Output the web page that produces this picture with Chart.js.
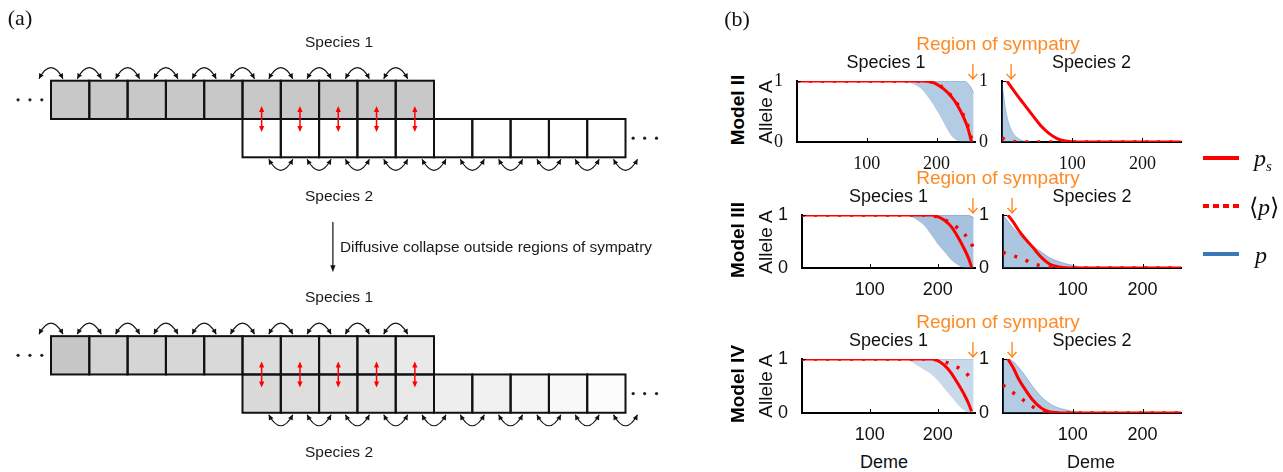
<!DOCTYPE html>
<html>
<head>
<meta charset="utf-8">
<script src="https://cdn.jsdelivr.net/npm/chart.js@4.4.1/dist/chart.umd.min.js"></script>
<style>
  html, body { margin: 0; padding: 0; background: #fff; }
  #fig { position: relative; width: 1283px; height: 472px; overflow: hidden;
         font-family: 'Liberation Sans', Arial, sans-serif; color: #1a1a1a; }
  #fig canvas { position: absolute; }
  .lbl { position: absolute; white-space: nowrap; line-height: 1; transform: translate(-50%, -50%); }
  .key { position: absolute; height: 4px; }
</style>
</head>
<body>
<div id="fig"></div>
<script>
// ---- panel (a): schematic of demes ----
const cellsTop = [0, 1, 2, 3, 4, 5, 6, 7, 8, 9];
const cellsBottom = [5, 6, 7, 8, 9, 10, 11, 12, 13, 14];
const arcsTop = [0, 1, 2, 3, 4, 5, 6, 7, 8, 9];
const arcsBottom = [6, 7, 8, 9, 10, 11, 12, 13, 14, 15];
const sympatryCells = [5, 6, 7, 8, 9];
const shadeTopBefore = ['#c8c8c8', '#c8c8c8', '#c8c8c8', '#c8c8c8', '#c8c8c8', '#c8c8c8', '#c8c8c8', '#c8c8c8', '#c8c8c8', '#c8c8c8'];
const shadeBottomBefore = ['#ffffff', '#ffffff', '#ffffff', '#ffffff', '#ffffff', '#ffffff', '#ffffff', '#ffffff', '#ffffff', '#ffffff'];
const shadeTopAfter = ['#c6c6c6', '#d3d3d3', '#d5d5d5', '#d7d7d7', '#d9d9d9', '#dcdcdc', '#dfdfdf', '#e2e2e2', '#e5e5e5', '#e9e9e9'];
const shadeBottomAfter = ['#dadada', '#dddddd', '#e1e1e1', '#e4e4e4', '#e8e8e8', '#eeeeee', '#f1f1f1', '#f4f4f4', '#f8f8f8', '#fcfcfc'];

// ---- panel (b): allele frequency profiles ----
const xTicks = [100, 200];
const yTicks = [0, 1];
const demes1 = [0, 150, 160, 170, 180, 190, 200, 210, 220, 230, 240, 245, 250, 253];
const demes2 = [0, 3, 7, 15, 22, 30, 42, 55, 66, 78, 90, 100, 110, 120, 255];

// Model II
const m2Ps1   = [1, 1, 1, 1, 1, 0.99, 0.95, 0.87, 0.76, 0.6, 0.37, 0.22, 0, null];
const m2Mean1 = [1, 1, 1, 1, 1, 0.99, 0.96, 0.88, 0.77, 0.62, 0.4, 0.26, 0.06, null];
const m2Hi1   = [null, 1, 1, 1, 1, 1, 1, 1, 1, 1, 1, 0.96, 0.88, 0.8];
const m2Lo1   = [null, 1, 0.98, 0.93, 0.85, 0.7, 0.52, 0.32, 0.12, 0.02, 0, 0, 0, 0];
const m2Ps2   = [null, null, 1, 0.87, 0.76, 0.64, 0.46, 0.27, 0.15, 0.06, 0.015, 0.003, 0, 0, 0];
const m2Mean2 = [0.07, 0.05, 0.03, 0.01, 0, 0, 0, 0, 0, 0, 0, 0, 0, 0, 0];
const m2Hi2   = [1, 0.7, 0.42, 0.16, 0.07, 0.02, 0, null, null, null, null, null, null, null, null];
const m2Lo2   = [0, 0, 0, 0, 0, 0, 0, null, null, null, null, null, null, null, null];

// Model III
const m3Ps1   = [1, 1, 1, 1, 1, 1, 0.97, 0.9, 0.78, 0.58, 0.34, 0.2, 0.02, null];
const m3Mean1 = [1, 1, 1, 1, 1, 0.99, 0.96, 0.91, 0.84, 0.75, 0.63, 0.55, 0.45, 0.37];
const m3Hi1   = [null, 1, 1, 1, 1, 1, 1, 1, 1, 1, 1, 1, 0.97, 0.95];
const m3Lo1   = [null, 1, 0.97, 0.9, 0.8, 0.63, 0.45, 0.3, 0.15, 0.05, 0, 0, 0, 0];
const m3Ps2   = [null, null, 1, 0.86, 0.72, 0.58, 0.4, 0.2, 0.08, 0.025, 0.005, 0, 0, 0, 0];
const m3Mean2 = [0.3, 0.28, 0.26, 0.23, 0.2, 0.16, 0.09, 0.04, 0.015, 0.005, 0, 0, 0, 0, 0];
const m3Hi2   = [1, 0.95, 0.88, 0.75, 0.65, 0.55, 0.42, 0.3, 0.2, 0.13, 0.08, 0.05, 0.02, 0, null];
const m3Lo2   = [0, 0, 0, 0, 0, 0, 0, 0, 0, 0, 0, 0, 0, 0, null];

// Model IV
const m4Ps1   = [1, 1, 1, 1, 1, 1, 0.97, 0.88, 0.74, 0.54, 0.32, 0.19, 0.03, null];
const m4Mean1 = [1, 1, 1, 1, 1, 1, 0.98, 0.95, 0.9, 0.84, 0.76, 0.7, 0.63, 0.58];
const m4Hi1   = [null, 1, 1, 1, 1, 1, 1, 1, 1, 1, 1, 1, 1, 1];
const m4Lo1   = [null, 1, 0.96, 0.88, 0.8, 0.72, 0.6, 0.45, 0.3, 0.15, 0.04, 0, 0, 0];
const m4Ps2   = [null, null, 1, 0.83, 0.64, 0.47, 0.25, 0.09, 0.025, 0.005, 0, 0, 0, 0, 0];
const m4Mean2 = [0.52, 0.48, 0.44, 0.37, 0.31, 0.23, 0.12, 0.04, 0.01, 0, 0, 0, 0, 0, 0];
const m4Hi2   = [1, 1, 1, 0.95, 0.85, 0.72, 0.5, 0.3, 0.18, 0.1, 0.06, 0.03, 0.01, 0, null];
const m4Lo2   = [0, 0, 0, 0, 0, 0, 0, 0, 0, 0, 0, 0, 0, 0, null];

const sympatryArrow = [252, 13];

const RED = '#ff0000';
const ORANGE = '#ff8a24';
const BLUE = '59,120,181';
const fig = document.getElementById('fig');

function label(html, x, y, css, rotate) {
  const el = document.createElement('div');
  el.className = 'lbl';
  el.innerHTML = html;
  el.style.left = x + 'px';
  el.style.top = y + 'px';
  Object.assign(el.style, css || {});
  if (rotate) el.style.transform = 'translate(-50%, -50%) rotate(-90deg)';
  fig.appendChild(el);
}

function addCanvas(l, t, w, h) {
  const cv = document.createElement('canvas');
  cv.width = w; cv.height = h;
  cv.style.left = l + 'px'; cv.style.top = t + 'px';
  cv.style.width = w + 'px'; cv.style.height = h + 'px';
  fig.appendChild(cv);
  return cv;
}

// ---------- panel (a) ----------
const cellPx = 38.3;
const diagrams = [
  { offset: 0, top: shadeTopBefore, bottom: shadeBottomBefore },
  { offset: 6.67, top: shadeTopAfter, bottom: shadeBottomAfter }
];

function head(ctx, x, y, dx, dy, len, half) {
  const n = Math.hypot(dx, dy); dx /= n; dy /= n;
  ctx.beginPath();
  ctx.moveTo(x, y);
  ctx.lineTo(x - dx * len - dy * half, y - dy * len + dx * half);
  ctx.lineTo(x - dx * len + dy * half, y - dy * len - dx * half);
  ctx.closePath();
  ctx.fill();
}

const schematic = {
  id: 'schematic',
  afterDraw(chart) {
    const { ctx, scales: { x, y } } = chart;
    const px = v => x.getPixelForValue(v);
    const py = v => y.getPixelForValue(v);
    ctx.save();
    diagrams.forEach(d => {
      // cells
      ctx.lineWidth = 2; ctx.strokeStyle = '#111';
      cellsTop.forEach((c, i) => {
        ctx.fillStyle = d.top[i];
        ctx.fillRect(px(c), py(d.offset), px(c + 1) - px(c), py(d.offset + 1) - py(d.offset));
      });
      cellsBottom.forEach((c, i) => {
        ctx.fillStyle = d.bottom[i];
        ctx.fillRect(px(c), py(d.offset + 1), px(c + 1) - px(c), py(d.offset + 2) - py(d.offset + 1));
      });
      cellsTop.forEach(c => ctx.strokeRect(px(c), py(d.offset), px(c + 1) - px(c), py(d.offset + 1) - py(d.offset)));
      cellsBottom.forEach(c => ctx.strokeRect(px(c), py(d.offset + 1), px(c + 1) - px(c), py(d.offset + 2) - py(d.offset + 1)));

      // migration arcs
      ctx.lineWidth = 1.2; ctx.strokeStyle = '#111'; ctx.fillStyle = '#111';
      const arc = (bx, by, dir) => {
        const x0 = bx - 12, x1 = bx + 12, ye = by + dir * 2, cy = by + dir * 24;
        ctx.beginPath(); ctx.moveTo(x0, ye); ctx.quadraticCurveTo(bx, cy, x1, ye); ctx.stroke();
        head(ctx, x0, ye, x0 - bx, ye - cy, 5, 2.6);
        head(ctx, x1, ye, x1 - bx, ye - cy, 5, 2.6);
      };
      arcsTop.forEach(b => arc(px(b), py(d.offset), -1));
      arcsBottom.forEach(b => arc(px(b), py(d.offset + 2), 1));

      // hybridisation arrows in the region of sympatry
      ctx.strokeStyle = RED; ctx.fillStyle = RED; ctx.lineWidth = 1.5;
      sympatryCells.forEach(c => {
        const cx = px(c + 0.5), cy = py(d.offset + 1);
        ctx.beginPath(); ctx.moveTo(cx, cy - 10); ctx.lineTo(cx, cy + 10); ctx.stroke();
        head(ctx, cx, cy - 13, 0, -1, 6, 2.6);
        head(ctx, cx, cy + 13, 0, 1, 6, 2.6);
      });

      // continuation dots
      ctx.fillStyle = '#222';
      [-0.86, -0.55, -0.24].forEach(v => { ctx.beginPath(); ctx.arc(px(v), py(d.offset + 0.5), 1.6, 0, Math.PI * 2); ctx.fill(); });
      [15.2, 15.5, 15.81].forEach(v => { ctx.beginPath(); ctx.arc(px(v), py(d.offset + 1.5), 1.6, 0, Math.PI * 2); ctx.fill(); });
    });

    // diffusive collapse arrow
    ctx.strokeStyle = '#111'; ctx.fillStyle = '#111'; ctx.lineWidth = 1.2;
    const ax = px(7.36);
    ctx.beginPath(); ctx.moveTo(ax, py(3.69)); ctx.lineTo(ax, py(4.9)); ctx.stroke();
    head(ctx, ax, py(5.0), 0, 1, 7, 2.6);
    ctx.restore();
  }
};

const cvA = addCanvas(0, 0, 680, 472);
new Chart(cvA, {
  type: 'scatter',
  data: { datasets: [] },
  options: {
    responsive: false, animation: false, events: [],
    layout: { padding: 0 },
    plugins: { legend: { display: false }, tooltip: { enabled: false } },
    scales: {
      x: { type: 'linear', display: false, min: -51 / cellPx, max: -51 / cellPx + 680 / cellPx },
      y: { type: 'linear', display: false, reverse: true, min: -80.7 / cellPx, max: -80.7 / cellPx + 472 / cellPx }
    }
  },
  plugins: [schematic]
});

// ---------- panel (b) ----------
const axisExtras = {
  id: 'axisExtras',
  afterDraw(chart, args, opts) {
    const { ctx, chartArea: a, scales: { x, y } } = chart;
    ctx.save();
    ctx.strokeStyle = '#000'; ctx.lineWidth = 1;
    xTicks.forEach(v => {
      const p = Math.round(x.getPixelForValue(v)) + 0.5;
      ctx.beginPath(); ctx.moveTo(p, a.bottom); ctx.lineTo(p, a.bottom - 4); ctx.stroke();
    });
    yTicks.forEach(v => {
      const p = Math.round(y.getPixelForValue(v)) + 0.5;
      ctx.beginPath(); ctx.moveTo(a.left, p); ctx.lineTo(a.left + 4, p); ctx.stroke();
    });
    const ax = x.getPixelForValue(opts.arrowAt);
    ctx.strokeStyle = ORANGE; ctx.lineWidth = 1.4;
    ctx.beginPath();
    ctx.moveTo(ax, a.top - 17); ctx.lineTo(ax, a.top - 2);
    ctx.moveTo(ax - 4.5, a.top - 7); ctx.lineTo(ax, a.top - 2); ctx.lineTo(ax + 4.5, a.top - 7);
    ctx.stroke();
    ctx.restore();
  }
};

function subplot(box, demes, s, arrowAt, tickFont, alpha) {
  const padL = 45, padT = 45, padR = 8, padB = 28;
  const cv = addCanvas(box.l - padL, box.t - padT, box.w + padL + padR, box.h + padT + padB);
  const pts = arr => demes.map((d, i) => ({ x: d, y: arr[i] }));
  const line = { pointRadius: 0, cubicInterpolationMode: 'monotone', spanGaps: false };
  new Chart(cv, {
    type: 'line',
    data: {
      datasets: [
        Object.assign({ data: pts(s.lo), order: 4, borderWidth: 0, borderColor: 'rgba(0,0,0,0)', fill: false }, line),
        Object.assign({ data: pts(s.hi), order: 3, borderWidth: 1, borderColor: `rgba(${BLUE},${alpha})`,
          backgroundColor: `rgba(${BLUE},${alpha})`, fill: '-1' }, line),
        Object.assign({ data: pts(s.ps), order: 2, borderWidth: 3, borderColor: RED, fill: false }, line),
        Object.assign({ data: pts(s.mean), order: 1, borderWidth: 3.5, borderColor: RED, borderDash: [3, 9], fill: false }, line)
      ]
    },
    options: {
      responsive: false, animation: false, events: [],
      layout: { padding: { left: 0, top: padT, right: padR, bottom: 0 } },
      plugins: { legend: { display: false }, tooltip: { enabled: false }, axisExtras: { arrowAt } },
      scales: {
        x: {
          type: 'linear', min: 0, max: 255,
          afterBuildTicks: sc => { sc.ticks = xTicks.map(v => ({ value: v })); },
          afterFit: sc => { sc.height = padB; },
          grid: { display: false },
          border: { display: true, color: '#000', width: 2 },
          ticks: { padding: 3, color: '#111', font: tickFont }
        },
        y: {
          type: 'linear', min: 0, max: 1,
          afterBuildTicks: sc => { sc.ticks = yTicks.map(v => ({ value: v })); },
          afterFit: sc => { sc.width = padL; },
          grid: { display: false },
          border: { display: true, color: '#000', width: 2 },
          ticks: { padding: 6, color: '#111', font: tickFont }
        }
      }
    },
    plugins: [axisExtras]
  });
}

const serifTicks = { family: "'Liberation Serif', serif", size: 18 };
const sansTicks = { family: "'Liberation Sans', sans-serif", size: 18 };

const rows = [
  { name: 'Model II', top: 81, h: 61, l1: 797, w1: 178, l2: 1002, w2: 179, font: serifTicks, alpha: [0.38, 0.38],
    s1: { ps: m2Ps1, mean: m2Mean1, hi: m2Hi1, lo: m2Lo1 }, s2: { ps: m2Ps2, mean: m2Mean2, hi: m2Hi2, lo: m2Lo2 } },
  { name: 'Model III', top: 215, h: 53, l1: 802, w1: 173, l2: 1003, w2: 178, font: sansTicks, alpha: [0.45, 0.42],
    s1: { ps: m3Ps1, mean: m3Mean1, hi: m3Hi1, lo: m3Lo1 }, s2: { ps: m3Ps2, mean: m3Mean2, hi: m3Hi2, lo: m3Lo2 } },
  { name: 'Model IV', top: 359, h: 54, l1: 802, w1: 173, l2: 1003, w2: 178, font: sansTicks, alpha: [0.28, 0.38],
    s1: { ps: m4Ps1, mean: m4Mean1, hi: m4Hi1, lo: m4Lo1 }, s2: { ps: m4Ps2, mean: m4Mean2, hi: m4Hi2, lo: m4Lo2 } }
];

rows.forEach(r => {
  subplot({ l: r.l1, t: r.top, w: r.w1, h: r.h }, demes1, r.s1, sympatryArrow[0], r.font, r.alpha[0]);
  subplot({ l: r.l2, t: r.top, w: r.w2, h: r.h }, demes2, r.s2, sympatryArrow[1], r.font, r.alpha[1]);
});
rows.forEach(r => {
  const mid = r.top + r.h / 2;
  label(r.name, 736.5, mid - 2, { fontSize: '19px', fontWeight: 'bold', color: '#000' }, true);
  label('Allele A', 764.5, mid, { fontSize: '19px', color: '#111' }, true);
  label('Species 1', r.l1 + r.w1 / 2, r.top - 19, { fontSize: '18px', color: '#111' });
  label('Species 2', r.l2 + r.w2 / 2, r.top - 19, { fontSize: '18px', color: '#111' });
  label('Region of sympatry', 998, r.top - 38, { fontSize: '19px', color: ORANGE });
});
label('Deme', 884, 462, { fontSize: '18px', color: '#111' });
label('Deme', 1091, 462, { fontSize: '18px', color: '#111' });

// panel letters
const serif = { fontFamily: "'Liberation Serif', serif", fontSize: '22px', color: '#111' };
label('(a)', 20, 18, serif);
label('(b)', 737, 19, serif);

// panel (a) text
label('Species 1', 339, 42, { fontSize: '15.5px' });
label('Species 2', 339, 196, { fontSize: '15.5px' });
label('Diffusive collapse outside regions of sympatry', 340, 247, { fontSize: '15.4px', transform: 'translate(0, -50%)' });
label('Species 1', 339, 297, { fontSize: '15.5px' });
label('Species 2', 339, 452, { fontSize: '15.5px' });

// legend
function key(y, bg) {
  const el = document.createElement('div');
  el.className = 'key';
  el.style.left = '1203px'; el.style.top = (y - 2) + 'px'; el.style.width = '36px';
  el.style.background = bg;
  fig.appendChild(el);
}
key(158, RED);
key(206, `repeating-linear-gradient(90deg, ${RED} 0 6px, transparent 6px 10px)`);
key(254, `rgb(${BLUE})`);
const math = { fontFamily: "'Liberation Serif', serif", fontStyle: 'italic', fontSize: '24px', color: '#111' };
label('p<sub style="font-size:15px">s</sub>', 1263, 160, math);
label('<span style="font-style:normal">⟨</span>p<span style="font-style:normal">⟩</span>', 1264, 207, math);
label('p', 1261, 255, math);
</script>
</body>
</html>
